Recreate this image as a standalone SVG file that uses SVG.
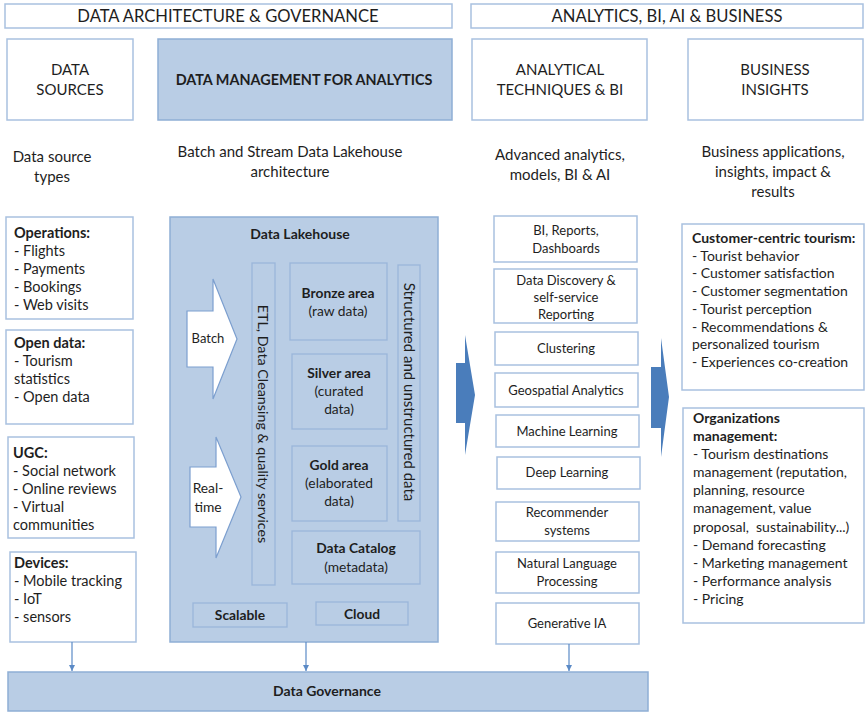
<svg xmlns="http://www.w3.org/2000/svg" width="865" height="713" viewBox="0 0 865 713">
<style>
.box{fill:#fff;stroke:#a9c1e0;stroke-width:1.5}
.blue{fill:#b9cde5;stroke:#8faed5;stroke-width:1.5}
.in{fill:none;stroke:#9ab6da;stroke-width:1.3}
.t{font-family:Lato,"Liberation Sans",sans-serif;font-size:14px;fill:#1e1e1e}
.s{font-size:13px}
.m{font-size:13.8px}
.l{font-size:14.5px}
.h{font-size:15px}
.hh{font-size:16.6px}
.b{font-weight:bold}
.c{text-anchor:middle}
.con{stroke:#5b8ac6;stroke-width:1.2;fill:none}
.big{fill:#4a7dbb}
.wa{fill:#fff;stroke:#7c9fcf;stroke-width:1.2}
</style>
<defs>
<marker id="ah" viewBox="0 0 10 10" refX="10" refY="5" markerWidth="6" markerHeight="6" orient="auto" markerUnits="userSpaceOnUse">
<path d="M0,0 L10,5 L0,10 Z" fill="#5b8ac6"/>
</marker>
</defs>
<rect width="865" height="713" fill="#fff"/>

<g id="hdr-arch"><rect class="box" x="5" y="4" width="447" height="24"/><text class="t hh c" x="228" y="22">DATA ARCHITECTURE &amp; GOVERNANCE</text></g>
<g id="hdr-analytics"><rect class="box" x="471" y="4" width="392" height="24"/><text class="t hh c" x="667" y="22">ANALYTICS, BI, AI &amp; BUSINESS</text></g>

<g id="data-sources"><rect class="box" x="7" y="39" width="126" height="81"/><text class="t h c" x="70" y="75">DATA</text><text class="t h c" x="70" y="95">SOURCES</text></g>
<g id="data-mgmt"><rect class="blue" x="158" y="39" width="294" height="81"/><text class="t b c" style="font-size:14.4px" x="304" y="85">DATA MANAGEMENT FOR ANALYTICS</text></g>
<g id="analytical"><rect class="box" x="472" y="39" width="175" height="81"/><text class="t h c" x="560" y="75">ANALYTICAL</text><text class="t h c" x="560" y="95">TECHNIQUES &amp; BI</text></g>
<g id="business"><rect class="box" x="688" y="39" width="175" height="81"/><text class="t h c" x="775" y="75">BUSINESS</text><text class="t h c" x="775" y="95">INSIGHTS</text></g>

<g id="sub-sources"><text class="t h c" x="52" y="162">Data source</text><text class="t h c" x="52" y="182">types</text></g>
<g id="sub-lakehouse"><text class="t h c" x="290" y="157">Batch and Stream Data Lakehouse</text><text class="t h c" x="290" y="177">architecture</text></g>
<g id="sub-analytics"><text class="t h c" x="560" y="160">Advanced analytics,</text><text class="t h c" x="560" y="180">models, BI &amp; AI</text></g>
<g id="sub-business"><text class="t h c" x="773" y="157">Business applications,</text><text class="t h c" x="773" y="177">insights, impact &amp;</text><text class="t h c" x="773" y="197">results</text></g>

<g id="src-operations"><rect class="box" x="6" y="217" width="127" height="102"/>
<text class="t l" x="14" y="238"><tspan class="b">Operations:</tspan><tspan x="14" dy="18">- Flights</tspan><tspan x="14" dy="18">- Payments</tspan><tspan x="14" dy="18">- Bookings</tspan><tspan x="14" dy="18">- Web visits</tspan></text></g>
<g id="src-open"><rect class="box" x="6" y="330" width="127" height="94"/>
<text class="t l" x="14" y="348"><tspan class="b">Open data:</tspan><tspan x="14" dy="18">- Tourism</tspan><tspan x="14" dy="18">statistics</tspan><tspan x="14" dy="18">- Open data</tspan></text></g>
<g id="src-ugc"><rect class="box" x="8" y="437" width="126" height="101"/>
<text class="t l" x="13" y="458"><tspan class="b">UGC:</tspan><tspan x="13" dy="18">- Social network</tspan><tspan x="13" dy="18">- Online reviews</tspan><tspan x="13" dy="18">- Virtual</tspan><tspan x="13" dy="18">communities</tspan></text></g>
<g id="src-devices"><rect class="box" x="10" y="552" width="126" height="90"/>
<text class="t l" x="14" y="568"><tspan class="b">Devices:</tspan><tspan x="14" dy="18">- Mobile tracking</tspan><tspan x="14" dy="18">- IoT</tspan><tspan x="14" dy="18">- sensors</tspan></text></g>

<g id="lakehouse">
<rect class="blue" x="170" y="217" width="268" height="425"/>
<text class="t b c" x="300" y="239">Data Lakehouse</text>
<g id="batch"><path class="wa" d="M187,311 L213,311 L213,279 L237,339 L213,399 L213,367 L187,367 Z"/><text class="t s c" x="208" y="343">Batch</text></g>
<g id="realtime"><path class="wa" d="M190,467 L216,467 L216,437 L241,497 L216,558 L216,527 L190,527 Z"/><text class="t m c" x="208" y="493">Real-</text><text class="t m c" x="208" y="512">time</text></g>
<g id="etl"><rect class="in" x="252" y="263" width="23" height="322"/><text class="t c" style="font-size:14.3px" transform="rotate(90 263 424)" x="263" y="424" dy="0.35em">ETL, Data Cleansing &amp; quality services</text></g>
<g id="bronze"><rect class="in" x="290" y="263" width="97" height="77"/><text class="t m b c" x="338" y="298">Bronze area</text><text class="t m c" x="338" y="316">(raw data)</text></g>
<g id="silver"><rect class="in" x="292" y="354" width="95" height="75"/><text class="t m b c" x="339" y="378">Silver area</text><text class="t m c" x="339" y="396">(curated</text><text class="t m c" x="339" y="414">data)</text></g>
<g id="gold"><rect class="in" x="292" y="446" width="95" height="75"/><text class="t m b c" x="339" y="470">Gold area</text><text class="t m c" x="339" y="488">(elaborated</text><text class="t m c" x="339" y="506">data)</text></g>
<g id="structured"><rect class="in" x="398" y="265" width="22" height="256"/><text class="t c" style="font-size:15px" transform="rotate(90 409 392)" x="409" y="392" dy="0.35em">Structured and unstructured data</text></g>
<g id="catalog"><rect class="in" x="292" y="531" width="128" height="53"/><text class="t m b c" x="356" y="553">Data Catalog</text><text class="t m c" x="356" y="572">(metadata)</text></g>
<g id="scalable"><rect class="in" x="193" y="603" width="94" height="24"/><text class="t m b c" x="240" y="620">Scalable</text></g>
<g id="cloud"><rect class="in" x="316" y="602" width="92" height="23"/><text class="t m b c" x="362" y="619">Cloud</text></g>
</g>

<g id="an-bi"><rect class="box" x="494" y="216" width="143" height="46"/><text class="t s c" x="566" y="235">BI, Reports,</text><text class="t s c" x="566" y="253">Dashboards</text></g>
<g id="an-discovery"><rect class="box" x="494" y="269" width="143" height="54"/><text class="t s c" x="566" y="285">Data Discovery &amp;</text><text class="t s c" x="566" y="302">self-service</text><text class="t s c" x="566" y="319">Reporting</text></g>
<g id="an-clustering"><rect class="box" x="495" y="332" width="143" height="33"/><text class="t s c" x="566" y="353">Clustering</text></g>
<g id="an-geo"><rect class="box" x="495" y="373" width="143" height="34"/><text class="t s c" x="566" y="395">Geospatial Analytics</text></g>
<g id="an-ml"><rect class="box" x="496" y="415" width="143" height="32"/><text class="t s c" x="567" y="436">Machine Learning</text></g>
<g id="an-dl"><rect class="box" x="497" y="457" width="143" height="32"/><text class="t s c" x="567" y="477">Deep Learning</text></g>
<g id="an-rec"><rect class="box" x="496" y="502" width="143" height="39"/><text class="t s c" x="567" y="517">Recommender</text><text class="t s c" x="567" y="535">systems</text></g>
<g id="an-nlp"><rect class="box" x="496" y="552" width="143" height="41"/><text class="t s c" x="567" y="568">Natural Language</text><text class="t s c" x="567" y="586">Processing</text></g>
<g id="an-gen"><rect class="box" x="496" y="603" width="143" height="41"/><text class="t s c" x="567" y="628">Generative IA</text></g>

<g id="bi-customer"><rect class="box" x="682" y="224" width="182" height="166"/>
<text class="t" x="692" y="243"><tspan class="b">Customer-centric tourism:</tspan><tspan x="692" dy="17.7">- Tourist behavior</tspan><tspan x="692" dy="17.7">- Customer satisfaction</tspan><tspan x="692" dy="17.7">- Customer segmentation</tspan><tspan x="692" dy="17.7">- Tourist perception</tspan><tspan x="692" dy="17.7">- Recommendations &amp;</tspan><tspan x="692" dy="17.7">personalized tourism</tspan><tspan x="692" dy="17.7">- Experiences co-creation</tspan></text></g>
<g id="bi-org"><rect class="box" x="683" y="408" width="181" height="215"/>
<text class="t" x="693" y="423"><tspan class="b">Organizations</tspan><tspan class="b" x="693" dy="18">management:</tspan><tspan x="693" dy="18">- Tourism destinations</tspan><tspan x="693" dy="18">management (reputation,</tspan><tspan x="693" dy="18">planning, resource</tspan><tspan x="693" dy="18">management, value</tspan><tspan x="693" dy="18.5">proposal,&#160; sustainability...)</tspan><tspan x="693" dy="18.5">- Demand forecasting</tspan><tspan x="693" dy="18">- Marketing management</tspan><tspan x="693" dy="18">- Performance analysis</tspan><tspan x="693" dy="18">- Pricing</tspan></text></g>

<g id="governance"><rect class="blue" x="8" y="672" width="640" height="39"/><text class="t b c" x="327" y="696">Data Governance</text></g>

<g id="connectors">
<line class="con" x1="72" y1="642" x2="72" y2="671" marker-end="url(#ah)"/>
<line class="con" x1="306" y1="642" x2="306" y2="671" marker-end="url(#ah)"/>
<line class="con" x1="569" y1="644" x2="569" y2="671" marker-end="url(#ah)"/>
<path class="big" d="M456,363 L465,363 L465,335 L475,395 L465,455 L465,423 L456,423 Z"/>
<path class="big" d="M651,367 L661,367 L661,338 L669,397 L661,457 L661,428 L651,428 Z"/>
</g>
</svg>
